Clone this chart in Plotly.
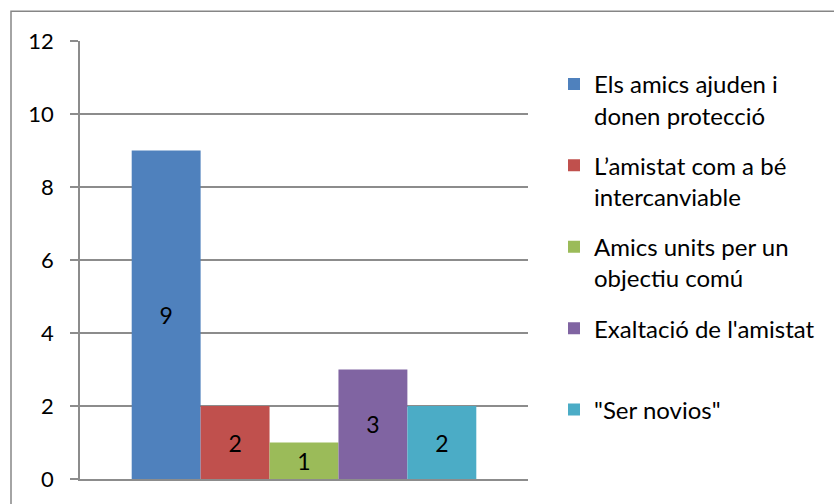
import plotly.graph_objects as go

# Survey categories and their counts
series_names = [
    "Els amics ajuden i<br>donen protecció",
    "L’amistat com a bé<br>intercanviable",
    "Amics units per un<br>objectiu comú",
    "Exaltació de l'amistat<br>\u00a0",
    "\"Ser novios\"<br>\u00a0",
]
series_values = [9, 2, 1, 3, 2]
series_colors = ["#4F81BD", "#C0504D", "#9BBB59", "#8064A2", "#4BACC6"]
category = [""]

FONT = "Lato"
GRID = "#8C8C8C"

fig = go.Figure()
for i, (name, val, col) in enumerate(zip(series_names, series_values, series_colors)):
    fig.add_trace(go.Bar(
        x=category, y=[val], name=name,
        marker=dict(color=col, line=dict(width=0)),
        text=[str(val)], textposition="inside", insidetextanchor="middle",
        textfont=dict(family=FONT, size=23, color="black"),
        legendgroup=f"g{i}",
        hoverinfo="skip",
    ))

W, H = 834, 504
L, R, T, B = 80, 306, 41, 22
pw, ph = W - L - R, H - T - B


def px_x(p):
    return (p - L) / pw


def px_y(p):
    return (H - B - p) / ph


fig.update_layout(
    width=W, height=H,
    margin=dict(l=L, r=R, t=T, b=B, pad=0),
    paper_bgcolor="white", plot_bgcolor="white",
    barmode="group", bargap=0.2308, bargroupgap=0,
    font=dict(family=FONT, size=22, color="black"),
    showlegend=True,
    legend=dict(
        x=px_x(554), y=px_y(62), xanchor="left", yanchor="top",
        font=dict(family=FONT, size=24, color="black"),
        valign="top", tracegroupgap=16,
        itemwidth=30, bgcolor="rgba(0,0,0,0)",
    ),
    uniformtext=dict(minsize=23, mode="show"),
    shapes=[dict(
        type="rect", xref="paper", yref="paper",
        x0=px_x(11), x1=px_x(900), y0=px_y(11), y1=px_y(560),
        line=dict(color="#868686", width=1.5), fillcolor="rgba(0,0,0,0)",
        layer="below",
    )],
)
fig.update_xaxes(
    showticklabels=False, showgrid=False, zeroline=False,
    showline=True, linecolor=GRID, linewidth=1.5, ticks="",
)
fig.update_yaxes(
    range=[0, 12], dtick=2, tick0=0,
    showgrid=True, gridcolor=GRID, gridwidth=1.5,
    showline=True, linecolor=GRID, linewidth=1.5,
    ticks="outside", ticklen=8, tickcolor=GRID, tickwidth=1.5,
    ticklabelstandoff=12, zeroline=False,
    tickfont=dict(family=FONT, size=22, color="black"),
)

fig.write_html("out.html")
